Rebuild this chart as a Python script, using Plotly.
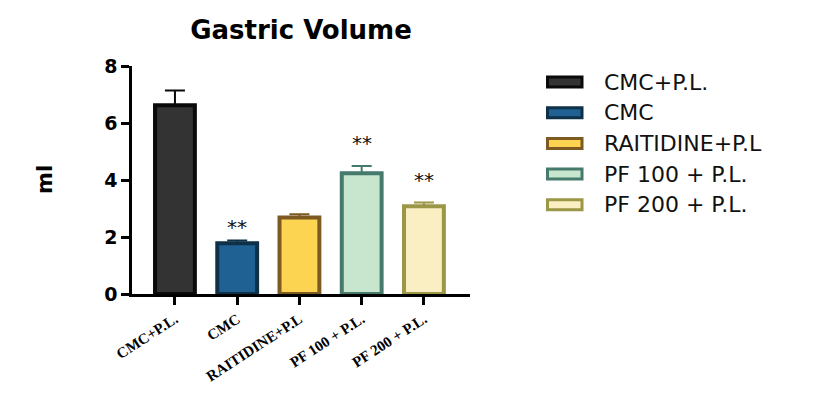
import plotly.graph_objects as go

categories = ["CMC+P.L.", "CMC", "RAITIDINE+P.L", "PF 100 + P.L.", "PF 200 + P.L."]
legend_names = ["CMC+P.L.", "CMC", "RAITIDINE+P.L", "PF 100 + P.L.", "PF 200 + P.L."]
means = [6.62, 1.78, 2.68, 4.24, 3.08]
errors = [0.52, 0.10, 0.12, 0.25, 0.13]
stars = ["", "**", "", "**", "**"]
star_y = [None, 2.45, None, 5.4, 4.1]
y_ticks = [0, 2, 4, 6, 8]

fills = ["#333333", "#1f6193", "#fdd452", "#c8e6cd", "#faeec3"]
lines = ["#0a0a0a", "#0f3147", "#7d5a22", "#457a6c", "#9c9647"]

# layout geometry (figure pixels)
W, H = 820, 398
L, R, T, B = 124, 358, 58, 112
PW, PH = W - L - R, H - T - B


def px_x(p):  # figure pixel -> paper x
    return (p - L) / PW


def px_y(p):  # figure pixel (from top) -> paper y
    return (H - B - p) / PH


fig = go.Figure()
for i, c in enumerate(categories):
    fig.add_trace(go.Bar(
        x=[c], y=[means[i]], name=legend_names[i], width=0.64, showlegend=False,
        marker=dict(color=fills[i], line=dict(color=lines[i], width=4)),
        error_y=dict(type="data", array=[errors[i]], arrayminus=[0], symmetric=False,
                     color=lines[i], thickness=2, width=10),
    ))

for i, c in enumerate(categories):
    if stars[i]:
        fig.add_annotation(x=c, y=star_y[i], text=stars[i], showarrow=False, yanchor="middle", yshift=-3,
                           font=dict(family="DejaVu Sans", size=20, color="#111"))

# legend drawn as swatches + labels
leg_y0 = 74
leg_gap = 30.7
for i, name in enumerate(legend_names):
    cy = leg_y0 + i * leg_gap
    fig.add_shape(type="rect", xref="paper", yref="paper",
                  x0=px_x(539.5), x1=px_x(574), y0=px_y(cy - 5), y1=px_y(cy + 5),
                  fillcolor=fills[i], line=dict(color=lines[i], width=3))
    fig.add_annotation(xref="paper", yref="paper", x=px_x(594), y=px_y(cy), text=name,
                       xanchor="left", yanchor="middle", showarrow=False,
                       font=dict(family="DejaVu Sans", size=22, color="#111"))

fig.add_annotation(xref="paper", yref="paper", x=px_x(37), y=px_y(172), text="ml", textangle=-90,
                   showarrow=False, xanchor="center", yanchor="middle",
                   font=dict(family="DejaVu Sans", size=21, color="black", weight="bold"))

fig.update_layout(
    width=W, height=H,
    margin=dict(l=L, r=R, t=T, b=B),
    plot_bgcolor="white", paper_bgcolor="white",
    barmode="overlay",
    showlegend=False,
    title=dict(text="Gastric Volume", x=293 / W, xanchor="center", y=1 - 22 / H, yanchor="middle",
               font=dict(family="DejaVu Sans", size=26, color="black", weight="bold")),
)
fig.update_xaxes(
    range=[-0.69, 4.74], showline=True, linecolor="black", linewidth=2.5,
    ticks="outside", ticklen=8, tickwidth=2.5, tickcolor="black",
    tickangle=-33, tickfont=dict(family="Liberation Serif", size=15, color="black", weight="bold"),
    showgrid=False, zeroline=False,
)
fig.update_yaxes(
    range=[0, 8], tickvals=y_ticks, showline=True, linecolor="black", linewidth=2.5,
    ticks="outside", ticklen=8, tickwidth=2.5, tickcolor="black",
    tickfont=dict(family="DejaVu Sans", size=19, color="black", weight="bold"),
    showgrid=False, zeroline=False,
)
fig.write_html("out.html")
